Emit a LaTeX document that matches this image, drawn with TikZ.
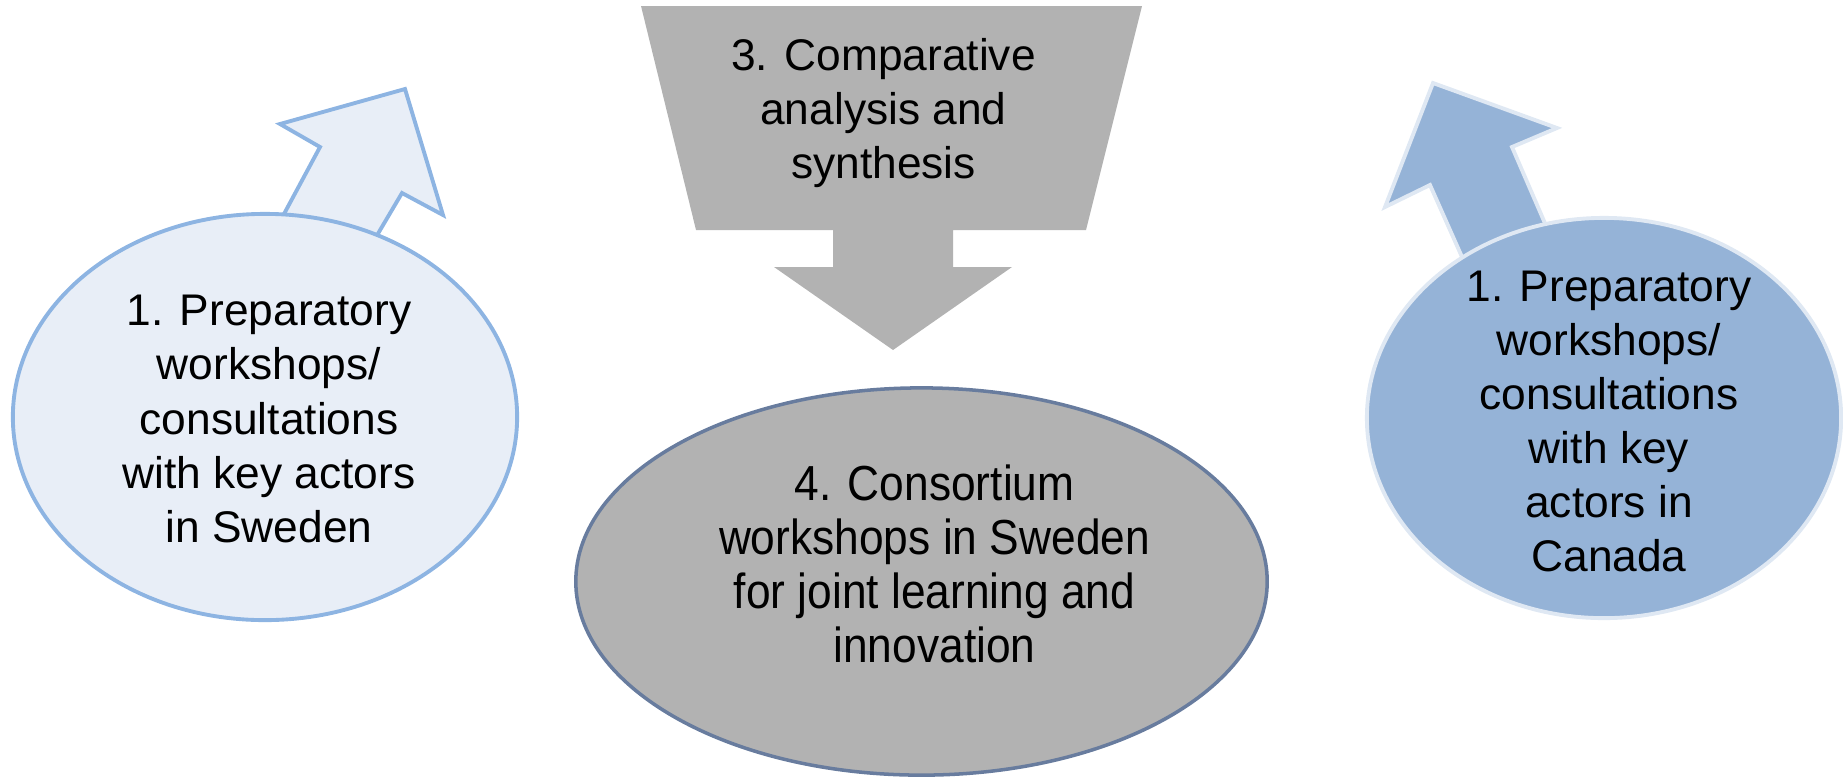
\documentclass[tikz,border=0pt]{standalone}
\usepackage{fontspec}
\setmainfont{Liberation Sans}
\newfontfamily\narrowsans{Liberation Sans}[FakeStretch=0.9]
\usetikzlibrary{shapes.geometric,calc}

\definecolor{paleblue}{HTML}{E8EEF7}
\definecolor{paleedge}{HTML}{8DB4E2}
\definecolor{midblue}{HTML}{95B3D7}
\definecolor{frost}{HTML}{DFE8F3}
\definecolor{grayfill}{HTML}{B2B2B2}
\definecolor{slate}{HTML}{687C9E}

\begin{document}
\begin{tikzpicture}[x=0.01cm,y=-0.01cm,
  blob/.style={ellipse,inner sep=0pt,line width=1.1pt},
  txt/.style={align=center,inner sep=0pt,font=\fontsize{12.6}{15.4}\selectfont}]
  \useasboundingbox (0,0) rectangle (1843,778);
  % funnel arrow (3)
  \fill[grayfill] (641,6) -- (1142,6) -- (1086,230) -- (953,230) -- (953,267) -- (1012,267)
    -- (893,350) -- (774,267) -- (833,267) -- (833,230) -- (696,230) -- cycle;
  % block arrows behind the two ellipses
  \filldraw[fill=paleblue,draw=paleedge,line width=1.1pt] (270,240) -- (320,147) -- (280,124)
    -- (405,89) -- (443,215) -- (402,193) -- (363,259) -- cycle;
  \filldraw[fill=midblue,draw=frost,line width=1.1pt] (1472,279.5) -- (1430,185) -- (1385,207)
    -- (1433,83) -- (1557,128) -- (1512,147) -- (1555,246.5) -- cycle;
  % ellipses
  \node[blob,fill=paleblue,draw=paleedge,minimum width=5.04cm,minimum height=4.06cm] (swe) at (265,417) {};
  \node[blob,fill=midblue,draw=frost,minimum width=4.74cm,minimum height=4.00cm] (can) at (1604,418) {};
  \node[blob,fill=grayfill,draw=slate,line width=1pt,minimum width=6.91cm,minimum height=3.87cm] (con) at (921.5,581.5) {};
  % texts
  \node[txt] (ana) at (883.5,113) {3. Comparative\\analysis and\\synthesis};
  \node[txt] (swetxt) at ($(swe.center)+(4,2)$) {1. Preparatory\\workshops/\\consultations\\with key actors\\in Sweden};
  \node[txt] (cantxt) at ($(can.center)+(5,3.5)$) {1. Preparatory\\workshops/\\consultations\\with key\\actors in\\Canada};
  \node[txt,font=\narrowsans\fontsize{14}{15.4}\selectfont] (contxt) at ($(con.center)+(13,-17.5)$)
    {4. Consortium\\workshops in Sweden\\for joint learning and\\innovation};
\end{tikzpicture}
\end{document}
